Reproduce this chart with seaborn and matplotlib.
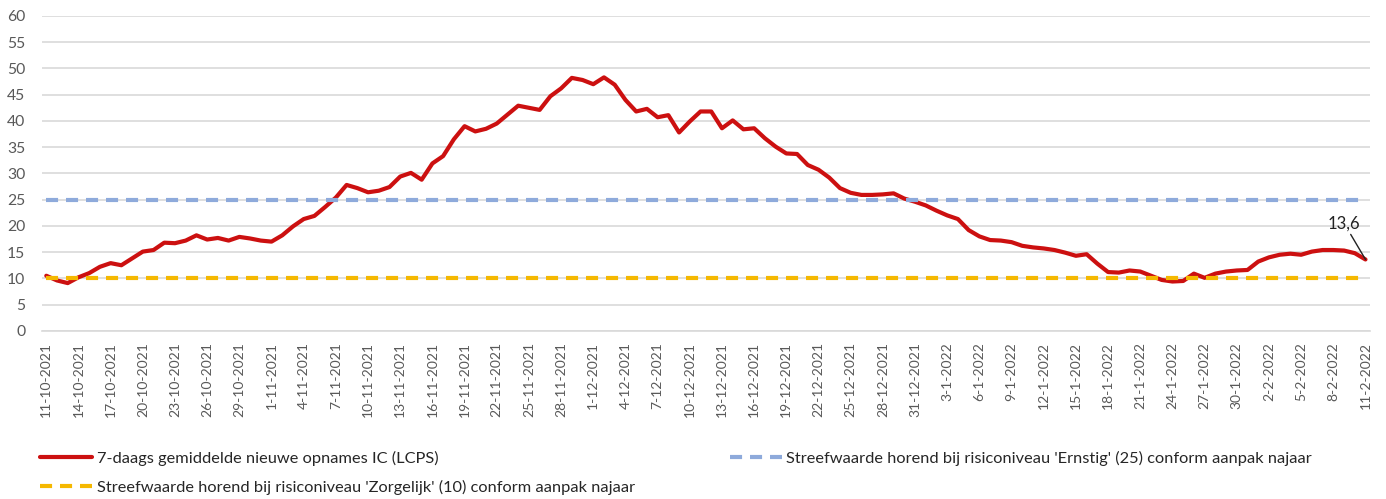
import numpy as np
import pandas as pd
import matplotlib
matplotlib.use("Agg")
import matplotlib.pyplot as plt
import seaborn as sns

# Daily 7-day average of new IC admissions (LCPS), 11-10-2021 .. 11-2-2022
ic_oct = [10.5, 9.6, 9.1, 10.2, 11.0, 12.2, 12.9, 12.5, 13.8, 15.1, 15.4,
          16.8, 16.7, 17.2, 18.2, 17.4, 17.7, 17.2, 17.9, 17.6, 17.2]
ic_nov = [17.0, 18.2, 19.9, 21.3, 21.9, 23.6, 25.4, 27.8, 27.2, 26.4,
          26.7, 27.4, 29.4, 30.1, 28.8, 31.9, 33.3, 36.5, 39.0, 38.0,
          38.5, 39.5, 41.2, 42.9, 42.5, 42.1, 44.7, 46.2, 48.2, 47.8]
ic_dec = [47.0, 48.3, 46.9, 44.0, 41.8, 42.3, 40.7, 41.1, 37.8, 39.9,
          41.8, 41.8, 38.6, 40.1, 38.4, 38.6, 36.7, 35.1, 33.8, 33.7,
          31.6, 30.7, 29.2, 27.2, 26.3, 25.9, 25.9, 26.0, 26.2, 25.2, 24.6]
ic_jan = [23.9, 22.9, 22.0, 21.3, 19.2, 18.0, 17.3, 17.2, 16.9, 16.2,
          15.9, 15.7, 15.4, 14.9, 14.3, 14.6, 12.8, 11.2, 11.1, 11.5,
          11.3, 10.5, 9.7, 9.4, 9.5, 10.9, 10.1, 10.9, 11.3, 11.5, 11.6]
ic_feb = [13.2, 14.0, 14.5, 14.7, 14.5, 15.1, 15.4, 15.4, 15.3, 14.8, 13.6]
ic_values = ic_oct + ic_nov + ic_dec + ic_jan + ic_feb

dates = pd.date_range("2021-10-11", "2022-02-11", freq="D")
date_labels = [f"{d.day}-{d.month}-{d.year}" for d in dates]

target_ernstig = 25
target_zorgelijk = 10

label_ic = "7-daags gemiddelde nieuwe opnames IC (LCPS)"
label_ernstig = "Streefwaarde horend bij risiconiveau 'Ernstig' (25) conform aanpak najaar"
label_zorgelijk = "Streefwaarde horend bij risiconiveau 'Zorgelijk' (10) conform aanpak najaar"

df = pd.DataFrame({
    "day": np.arange(len(ic_values)),
    "ic": ic_values,
    "ernstig": target_ernstig,
    "zorgelijk": target_zorgelijk,
})

sns.set_style("white")
plt.rcParams["font.family"] = ["Lato", "DejaVu Sans"]

red = "#cc1010"
blue = "#8eaadb"
yellow = "#f5b800"
grey_txt = "#595959"
grid_col = "#d9d9d9"

fig = plt.figure(figsize=(13.86, 4.99), dpi=100)
ax = fig.add_axes([0.0303, 0.337, 0.958, 0.631])

sns.lineplot(data=df, x="day", y="ic", ax=ax, color=red, linewidth=3.0,
             label=label_ic, legend=False, zorder=3)
sns.lineplot(data=df, x="day", y="ernstig", ax=ax, color=blue, linewidth=3.0,
             label=label_ernstig, legend=False, zorder=4)
sns.lineplot(data=df, x="day", y="zorgelijk", ax=ax, color=yellow, linewidth=3.0,
             label=label_zorgelijk, legend=False, zorder=4)
for ln in ax.lines[1:]:
    ln.set_dashes((2.9, 1.9))

ax.set_xlim(-0.4, len(ic_values) - 0.6)
ax.set_ylim(0, 60)
ax.set_yticks(range(0, 61, 5))
ax.set_xticks(df["day"][::3])
ax.set_xticklabels(date_labels[::3], rotation=90)
ax.set_xlabel("")
ax.set_ylabel("")
ax.yaxis.grid(True, color=grid_col, linewidth=1.2)
ax.set_axisbelow(True)
for side in ["top", "right", "left"]:
    ax.spines[side].set_visible(False)
ax.spines["bottom"].set_color(grid_col)
ax.spines["bottom"].set_linewidth(1.2)
ax.tick_params(axis="x", colors=grey_txt, labelsize=10, length=5,
               color=grid_col, pad=3)
ax.tick_params(axis="y", colors=grey_txt, labelsize=11.3, length=0, pad=12)

# label on last point
last = len(ic_values) - 1
ax.annotate(f"{ic_values[-1]:.1f}".replace(".", ","), xy=(last, ic_values[-1]),
            xytext=(last - 2.0, ic_values[-1] + 5.4), fontsize=12, color="#222222",
            ha="center", va="bottom",
            arrowprops=dict(arrowstyle="-", color="#222222", lw=1.0,
                            shrinkA=0, shrinkB=0))

h = ax.get_lines()
fig.legend([h[0], h[2], h[1]], [label_ic, label_zorgelijk, label_ernstig],
           loc="upper left", bbox_to_anchor=(0.0289, 0.097), ncol=2,
           frameon=False, fontsize=11.8, handlelength=3.2, handletextpad=0.25,
           columnspacing=5.8, labelspacing=0.85, borderpad=0, borderaxespad=0,
           labelcolor="#262626")

fig.savefig("out.png", dpi=100)
